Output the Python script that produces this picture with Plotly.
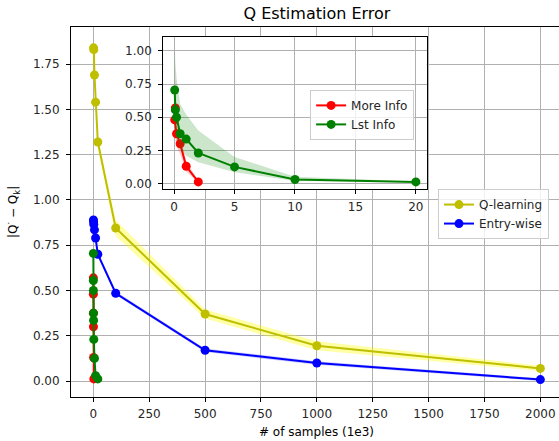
import plotly.graph_objects as go

# ---------------- data ----------------
q_x = [1, 2, 5, 10, 20, 100, 500, 1000, 2000]
q_y = [1.84, 1.83, 1.69, 1.54, 1.32, 0.845, 0.37, 0.195, 0.07]
q_up = [1.86, 1.85, 1.71, 1.56, 1.345, 0.89, 0.395, 0.22, 0.085]
q_lo = [1.82, 1.81, 1.67, 1.52, 1.295, 0.80, 0.345, 0.17, 0.055]

e_x = [0.5, 1, 2, 5, 10, 20, 100, 500, 1000, 2000]
e_y = [0.89, 0.88, 0.865, 0.835, 0.79, 0.70, 0.485, 0.17, 0.10, 0.008]
e_up = [0.90, 0.89, 0.875, 0.845, 0.80, 0.71, 0.495, 0.18, 0.11, 0.015]
e_lo = [0.88, 0.87, 0.855, 0.825, 0.78, 0.69, 0.475, 0.16, 0.09, 0.001]

r_x = [0.1, 0.05, 0.2, 0.5, 1, 2]
r_y = [0.57, 0.48, 0.375, 0.30, 0.13, 0.012]
r_up = [0.87, 0.62, 0.45, 0.36, 0.17, 0.02]
r_lo = [0.35, 0.36, 0.28, 0.22, 0.09, 0.005]

g_x = [0.05, 0.1, 0.2, 0.5, 1, 2, 5, 10, 20]
g_y = [0.705, 0.555, 0.50, 0.375, 0.335, 0.23, 0.125, 0.03, 0.012]
g_up = [1.08, 0.92, 0.80, 0.60, 0.52, 0.40, 0.20, 0.05, 0.015]
g_lo = [0.45, 0.40, 0.33, 0.26, 0.21, 0.16, 0.085, 0.018, 0.009]

main_xticks = [0, 250, 500, 750, 1000, 1250, 1500, 1750, 2000]
main_yticks = [0.00, 0.25, 0.50, 0.75, 1.00, 1.25, 1.50, 1.75]
inset_xticks = [0, 5, 10, 15, 20]
inset_yticks = [0.00, 0.25, 0.50, 0.75, 1.00]

FONT = "DejaVu Sans"

fig = go.Figure()


def band(x, up, lo, color, xa, ya):
    xs = list(x) + list(x)[::-1]
    ys = list(up) + list(lo)[::-1]
    fig.add_trace(go.Scatter(x=xs, y=ys, fill="toself", fillcolor=color,
                             line=dict(width=0), mode="lines", hoverinfo="skip",
                             showlegend=False, xaxis=xa, yaxis=ya))


def series(x, y, color, name, xa, ya, legend, show):
    fig.add_trace(go.Scatter(x=x, y=y, mode="lines+markers", name=name,
                             line=dict(color=color, width=2),
                             marker=dict(color=color, size=9),
                             showlegend=show, legend=legend,
                             xaxis=xa, yaxis=ya))


YEL = "#bfbf00"
# main axes
band(q_x, q_up, q_lo, "rgba(255,255,0,0.35)", "x", "y")
series(q_x, q_y, YEL, "Q-learning", "x", "y", "legend", True)
band(e_x, e_up, e_lo, "rgba(0,0,255,0.2)", "x", "y")
series(e_x, e_y, "#0000ff", "Entry-wise", "x", "y", "legend", True)
band(r_x, r_up, r_lo, "rgba(255,0,0,0.2)", "x", "y")
series(r_x, r_y, "#ff0000", "More Info", "x", "y", "legend", False)
band(g_x, g_up, g_lo, "rgba(0,128,0,0.2)", "x", "y")
series(g_x, g_y, "#008000", "Lst Info", "x", "y", "legend", False)

# inset axes
band(r_x, r_up, r_lo, "rgba(255,0,0,0.2)", "x2", "y2")
series(r_x, r_y, "#ff0000", "More Info", "x2", "y2", "legend2", True)
band(g_x, g_up, g_lo, "rgba(0,128,0,0.2)", "x2", "y2")
series(g_x, g_y, "#008000", "Lst Info", "x2", "y2", "legend2", True)

axis_common = dict(showgrid=True, gridcolor="#b0b0b0", gridwidth=0.8,
                   showline=True, linecolor="black", linewidth=1,
                   ticks="outside", ticklen=4, tickcolor="black", tickwidth=1,
                   zeroline=False, tickfont=dict(family=FONT, size=12, color="#262626"))

plot_h = 441 - 27 - 44

fig.update_layout(
    width=559, height=441,
    margin=dict(l=71, r=0, t=27, b=44),
    paper_bgcolor="white", plot_bgcolor="white",
    font=dict(family=FONT, size=12, color="black"),
    title=dict(text="Q Estimation Error", x=0.504, xref="paper", xanchor="center",
               y=1 - 13 / 441, yref="container", yanchor="middle",
               font=dict(family=FONT, size=16, color="black")),
    xaxis=dict(range=[-100, 2083.5], tickvals=main_xticks, mirror=True,
               ticklabelstandoff=2, **axis_common),
    yaxis=dict(range=[-0.088, 1.955], tickvals=main_yticks, tickformat=".2f",
               mirror=False, ticklabelstandoff=4, **axis_common),
    xaxis2=dict(domain=[0.189, 0.729], anchor="y2", range=[-0.9, 20.9],
                tickvals=inset_xticks, mirror=True, ticklabelstandoff=2, **axis_common),
    yaxis2=dict(domain=[0.561, 0.974], anchor="x2", range=[-0.045, 1.108],
                tickvals=inset_yticks, tickformat=".2f", mirror=True,
                ticklabelstandoff=4, **axis_common),
    legend=dict(x=0.752, y=0.562, xanchor="left", yanchor="top", itemwidth=30,
                bgcolor="rgba(255,255,255,0.8)", bordercolor="#cccccc", borderwidth=1,
                font=dict(family=FONT, size=12, color="#262626"), tracegroupgap=0),
    legend2=dict(x=0.49, y=0.83, xanchor="left", yanchor="top", itemwidth=30,
                 bgcolor="rgba(255,255,255,0.8)", bordercolor="#cccccc", borderwidth=1,
                 font=dict(family=FONT, size=12, color="#262626"), tracegroupgap=0),
)

fig.add_annotation(text="# of samples (1e3)", x=0.504, y=(397 - 431.5) / plot_h,
                   xref="paper", yref="paper", showarrow=False,
                   font=dict(family=FONT, size=12, color="black"),
                   xanchor="center", yanchor="middle")
fig.add_annotation(text="|Q<sup>·</sup> − Q<sub>k</sub>|", x=(13 - 71) / 488,
                   y=(397 - 212) / plot_h, xref="paper", yref="paper", showarrow=False,
                   textangle=-90, font=dict(family=FONT, size=12, color="black"),
                   xanchor="center", yanchor="middle")

fig.write_html("out.html", config={"displayModeBar": False},
               post_script="document.body.style.margin='0';document.body.style.overflow='hidden';")
